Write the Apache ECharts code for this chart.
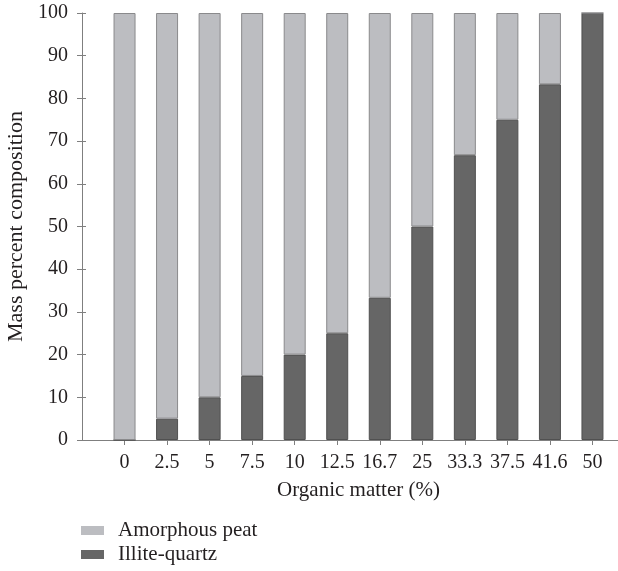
<!DOCTYPE html>
<html>
<head>
<meta charset="utf-8">
<script src="https://cdn.jsdelivr.net/npm/echarts@6/dist/echarts.min.js"></script>
<style>
  html, body { margin: 0; padding: 0; background: #ffffff; }
  #chart { width: 618px; height: 571px; }
</style>
</head>
<body>
<div id="chart"></div>
<script>
// Data
const categories = ['0', '2.5', '5', '7.5', '10', '12.5', '16.7', '25', '33.3', '37.5', '41.6', '50'];
const illiteQuartz = [0, 5, 10, 15, 20, 25, 33.3, 50, 66.7, 75, 83.3, 100];
const amorphousPeat = [100, 95, 90, 85, 80, 75, 66.7, 50, 33.3, 25, 16.7, 0];
const yTicks = [0, 10, 20, 30, 40, 50, 60, 70, 80, 90, 100];

const FONT = 'Liberation Serif';
const TXT = '#231f20';
const AX = '#7f7f7f';

// axis categories padded with an empty slot on each side
const axisCats = [''].concat(categories, ['']);
const pad = arr => [null].concat(arr, [null]);

const chart = echarts.init(document.getElementById('chart'), null, { renderer: 'canvas' });

chart.setOption({
  animation: false,
  backgroundColor: '#ffffff',
  textStyle: { fontFamily: FONT, color: TXT },
  grid: { left: 82, top: 13, height: 427, width: 553, containLabel: false, outerBoundsMode: 'none' },
  legend: {
    orient: 'vertical',
    left: 81,
    top: 520,
    padding: 0,
    itemWidth: 23,
    itemHeight: 9,
    itemGap: 3,
    icon: 'rect',
    data: ['Amorphous peat', 'Illite-quartz'],
    itemStyle: { borderWidth: 0 },
    textStyle: { fontFamily: FONT, fontSize: 21, color: TXT, padding: [0, 0, 0, 9] }
  },
  xAxis: [
    {
      type: 'category',
      data: axisCats,
      boundaryGap: false,
      position: 'bottom',
      name: 'Organic matter (%)',
      nameLocation: 'middle',
      nameGap: 40,
      nameTextStyle: { fontFamily: FONT, fontSize: 21, color: TXT },
      axisLine: { show: true, lineStyle: { color: AX, width: 1 } },
      axisTick: { show: true, length: 5, inside: false, lineStyle: { color: AX },
                  interval: function (index) { return index !== 0; } },
      axisLabel: { fontFamily: FONT, fontSize: 20, color: TXT, margin: 13, interval: 0 },
      splitLine: { show: false }
    },
    {
      type: 'category',
      data: axisCats,
      boundaryGap: false,
      position: 'top',
      axisLine: { show: true, lineStyle: { color: AX, width: 1 } },
      axisTick: { show: false },
      axisLabel: { show: false },
      splitLine: { show: false }
    }
  ],
  yAxis: [
    {
      type: 'value',
      min: yTicks[0],
      max: yTicks[yTicks.length - 1],
      interval: 10,
      name: 'Mass percent composition',
      nameLocation: 'middle',
      nameGap: 47,
      nameRotate: 90,
      nameTextStyle: { fontFamily: FONT, fontSize: 22, color: TXT },
      axisLine: { show: true, lineStyle: { color: AX, width: 1 } },
      axisTick: { show: true, length: 5, inside: false, lineStyle: { color: AX } },
      axisLabel: { fontFamily: FONT, fontSize: 20, color: TXT, margin: 14 },
      splitLine: { show: false }
    },
    {
      type: 'value',
      min: yTicks[0],
      max: yTicks[yTicks.length - 1],
      interval: 10,
      position: 'left',
      axisLine: { show: false },
      axisTick: { show: true, length: 4, inside: true, lineStyle: { color: AX } },
      axisLabel: { show: false },
      splitLine: { show: false }
    }
  ],
  series: [
    {
      name: 'Illite-quartz',
      type: 'bar',
      stack: 'total',
      barWidth: 22,
      data: pad(illiteQuartz),
      itemStyle: { color: '#666666', borderColor: '#505050', borderWidth: 1 }
    },
    {
      name: 'Amorphous peat',
      type: 'bar',
      stack: 'total',
      barWidth: 22,
      data: pad(amorphousPeat),
      itemStyle: { color: '#bcbdc1', borderColor: '#8a8a8c', borderWidth: 1 }
    }
  ]
});
</script>
</body>
</html>
